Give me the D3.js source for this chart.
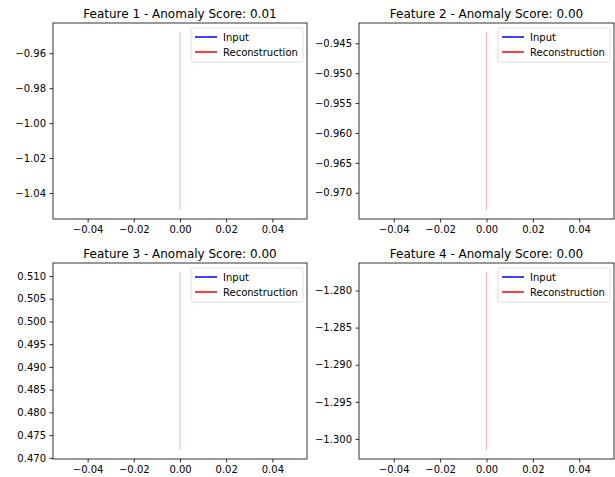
<!DOCTYPE html>
<html>
<head>
<meta charset="utf-8">
<title>Feature reconstruction</title>
<style>
  body { margin: 0; background: #fff; }
  svg text { font-family: "DejaVu Sans", sans-serif; fill: #000; }
</style>
</head>
<body>
<div id="chart"></div>
<script src="https://cdn.jsdelivr.net/npm/d3@7/dist/d3.min.js"></script>
<script>
// one entry per subplot
var features = ["Feature 1", "Feature 2", "Feature 3", "Feature 4"];
var anomalyScores = [0.01, 0.00, 0.00, 0.00];
// input sample (single step, at x = 0)
var inputValues = [-1.000, -0.958, 0.491, -1.289];
// reconstruction values, all at x = 0
var reconValues = [
  [-1.0498, -0.9478],
  [-0.9729, -0.9431],
  [0.4717, 0.5109],
  [-1.3015, -1.2775]
];
var xTicks = [-0.04, -0.02, 0.00, 0.02, 0.04];
var yTicks = [
  [-0.96, -0.98, -1.00, -1.02, -1.04],
  [-0.945, -0.950, -0.955, -0.960, -0.965, -0.970],
  [0.510, 0.505, 0.500, 0.495, 0.490, 0.485, 0.480, 0.475, 0.470],
  [-1.280, -1.285, -1.290, -1.295, -1.300]
];
var yFormats = [".2f", ".3f", ".3f", ".3f"];

var W = 615, H = 477;
var cols = [[53, 307], [359, 614]];
var rows = [[23, 219], [263, 459]];

var svg = d3.select("#chart").append("svg").attr("width", W).attr("height", H);

features.forEach(function(name, i) {
  var c = cols[i % 2], r = rows[Math.floor(i / 2)];
  var g = svg.append("g");

  // matplotlib style limits: single x point -> +/-0.05, then 5% margins
  var x = d3.scaleLinear().domain([-0.055, 0.055]).range([c[0], c[1]]);
  var ext = d3.extent(reconValues[i].concat([inputValues[i]]));
  var pad = (ext[1] - ext[0]) * 0.05;
  var y = d3.scaleLinear().domain([ext[0] - pad, ext[1] + pad]).range([r[1], r[0]]);

  // reconstruction (vertical segment at x = 0)
  var line = d3.line().x(function() { return x(0); }).y(function(d) { return y(d); });
  g.append("path").datum(reconValues[i])
    .attr("d", line).attr("fill", "none")
    .attr("stroke", "red").attr("stroke-opacity", 0.3).attr("stroke-width", 1);
  // input: single point, matplotlib draws no line for it
  g.append("path").datum([inputValues[i]])
    .attr("d", line).attr("fill", "none").attr("stroke", "blue");

  var xAxis = d3.axisBottom(x).tickValues(xTicks).tickSize(3.5).tickPadding(3.5)
    .tickFormat(d3.format(".2f"));
  var yAxis = d3.axisLeft(y).tickValues(yTicks[i]).tickSize(3.5).tickPadding(3.5)
    .tickFormat(d3.format(yFormats[i]));

  var gx = g.append("g").attr("transform", "translate(0," + r[1] + ")").call(xAxis);
  var gy = g.append("g").attr("transform", "translate(" + c[0] + ",0)").call(yAxis);
  [gx, gy].forEach(function(a) {
    a.select(".domain").remove();
    a.selectAll("line").attr("stroke", "#000").attr("stroke-width", 0.8);
    a.selectAll("text").attr("font-size", 10).attr("fill", "#000")
      .style("font-family", "'DejaVu Sans', sans-serif");
  });

  // frame
  g.append("rect")
    .attr("x", c[0]).attr("y", r[0])
    .attr("width", c[1] - c[0]).attr("height", r[1] - r[0])
    .attr("fill", "none").attr("stroke", "#000").attr("stroke-width", 0.8);

  // title
  g.append("text")
    .attr("x", (c[0] + c[1]) / 2).attr("y", r[0] - 5)
    .attr("text-anchor", "middle").attr("font-size", 12)
    .text(name + " - Anomaly Score: " + d3.format(".2f")(anomalyScores[i]));

  // legend
  var lg = g.append("g").attr("transform", "translate(" + (c[1] - 116) + "," + (r[0] + 5) + ")");
  lg.append("rect").attr("width", 112).attr("height", 34).attr("rx", 2)
    .attr("fill", "#fff").attr("fill-opacity", 0.8)
    .attr("stroke", "#d6d6d6").attr("stroke-width", 0.8);
  [["Input", "blue"], ["Reconstruction", "red"]].forEach(function(e, k) {
    var yy = 9 + k * 15;
    lg.append("line").attr("x1", 4).attr("x2", 26).attr("y1", yy).attr("y2", yy)
      .attr("stroke", e[1]).attr("stroke-width", 1.5);
    lg.append("text").attr("x", 32).attr("y", yy).attr("dy", "0.35em")
      .attr("font-size", 10).text(e[0]);
  });
});
</script>
</body>
</html>
